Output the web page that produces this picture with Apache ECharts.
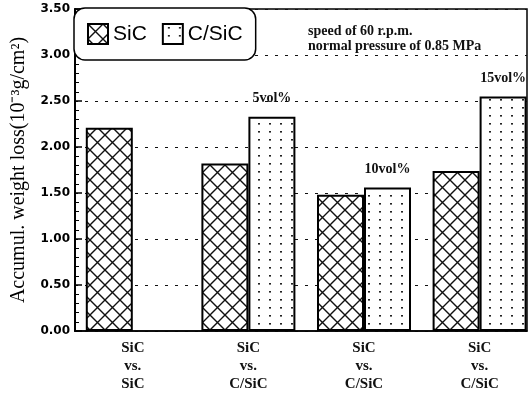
<!DOCTYPE html>
<html><head><meta charset="utf-8">
<script src="https://cdn.jsdelivr.net/npm/echarts@6/dist/echarts.min.js"></script>
<style>html,body{margin:0;padding:0;background:#fff}#c{width:532px;height:393px}</style>
</head><body><div id="c"></div>
<script>
// ---- data ----
const categories = ['SiC\nvs.\nSiC', 'SiC\nvs.\nC/SiC', 'SiC\nvs.\nC/SiC', 'SiC\nvs.\nC/SiC'];
const sicValues = [2.21, 1.82, 1.48, 1.74];
const csicValues = [null, 2.33, 1.56, 2.55];
const csicNotes = ['', '5vol%', '10vol%', '15vol%'];
const seriesNames = ['SiC', 'C/SiC'];
const yAxisTitle = 'Accumul. weight loss(10⁻³g/cm²)';
const noteText = 'speed of 60 r.p.m.\nnormal pressure of 0.85 MPa';

// ---- fill patterns ----
function hatch() {
  const c = document.createElement('canvas'); c.width = 15; c.height = 15;
  const g = c.getContext('2d');
  g.fillStyle = '#fff'; g.fillRect(0, 0, 15, 15);
  g.strokeStyle = '#111'; g.lineWidth = 1.4;
  g.beginPath();
  g.moveTo(-1, -1); g.lineTo(16, 16);
  g.moveTo(16, -1); g.lineTo(-1, 16);
  g.stroke();
  return c;
}
function dots() {
  const c = document.createElement('canvas'); c.width = 11; c.height = 8;
  const g = c.getContext('2d');
  g.fillStyle = '#fff'; g.fillRect(0, 0, 11, 8);
  g.fillStyle = '#222'; g.fillRect(5, 3, 2, 1.6);
  return c;
}
const hatchFill = { image: hatch(), repeat: 'repeat' };
const dotFill = { image: dots(), repeat: 'repeat' };

const sicData = [];
sicValues.forEach((v, i) => { if (v != null) sicData.push([i, v]); });
const csicData = [];
csicValues.forEach((v, i) => { if (v != null) csicData.push([i, v]); });

const chart = echarts.init(document.getElementById('c'), null, { renderer: 'canvas' });
const serif = 'Liberation Serif';
chart.setOption({
  animation: false,
  backgroundColor: '#fff',
  grid: { left: 75, right: 5, top: 9, bottom: 55, show: true, borderColor: '#000', borderWidth: 1.5, backgroundColor: 'transparent' },
  title: {
    text: noteText, left: 303, top: 19,
    textStyle: { fontFamily: serif, fontSize: 14, fontWeight: 'bold', color: '#111', lineHeight: 15 }
  },
  legend: {
    left: 74, top: 8, selectedMode: false,
    data: seriesNames,
    backgroundColor: '#fff', borderColor: '#000', borderWidth: 1.5, borderRadius: 11,
    padding: [15, 13, 15, 13], itemGap: 15, itemWidth: 20, itemHeight: 20,
    icon: 'rect',
    textStyle: { fontFamily: 'Liberation Sans', fontSize: 21, color: '#000' }
  },
  xAxis: {
    type: 'value', min: -0.5, max: 3.41,
    splitLine: { show: false },
    axisLine: { show: true, onZero: false, lineStyle: { color: '#000', width: 1.5 } },
    axisTick: { show: false },
    axisLabel: {
      customValues: categories.map((_, i) => i),
      formatter: v => categories[Math.round(v)],
      fontFamily: serif, fontSize: 15, fontWeight: 'bold', color: '#111', lineHeight: 18, margin: 8
    }
  },
  yAxis: {
    type: 'value', min: 0, max: 3.5, interval: 0.5,
    name: yAxisTitle, nameLocation: 'middle', nameGap: 46, nameRotate: 90,
    nameTextStyle: { fontFamily: serif, fontSize: 20, color: '#000' },
    axisLine: { show: true, onZero: false, lineStyle: { color: '#000', width: 2 } },
    axisTick: { show: true, inside: true, length: 7, lineStyle: { color: '#000', width: 1.5 } },
    minorTick: { show: true, splitNumber: 5, length: 4, lineStyle: { color: '#000', width: 1 } },
    axisLabel: {
      formatter: v => v.toFixed(2), margin: 5,
      fontFamily: 'DejaVu Sans', fontSize: 12, fontWeight: 'bold', color: '#000'
    },
    splitLine: { show: true, lineStyle: { color: '#111', width: 1, type: [3, 7] } }
  },
  series: [
    {
      name: seriesNames[0], type: 'bar', barWidth: 47, barGap: '0%',
      data: sicData,
      itemStyle: { color: hatchFill, borderColor: '#000', borderWidth: 2 }
    },
    {
      name: seriesNames[1], type: 'bar', barWidth: 47, barGap: '0%',
      data: csicData,
      itemStyle: { color: dotFill, borderColor: '#000', borderWidth: 2 },
      label: {
        show: true, position: 'top', distance: 11,
        formatter: p => csicNotes[p.value[0]],
        fontFamily: serif, fontSize: 14, fontWeight: 'bold', color: '#111'
      }
    }
  ]
});
</script></body></html>
